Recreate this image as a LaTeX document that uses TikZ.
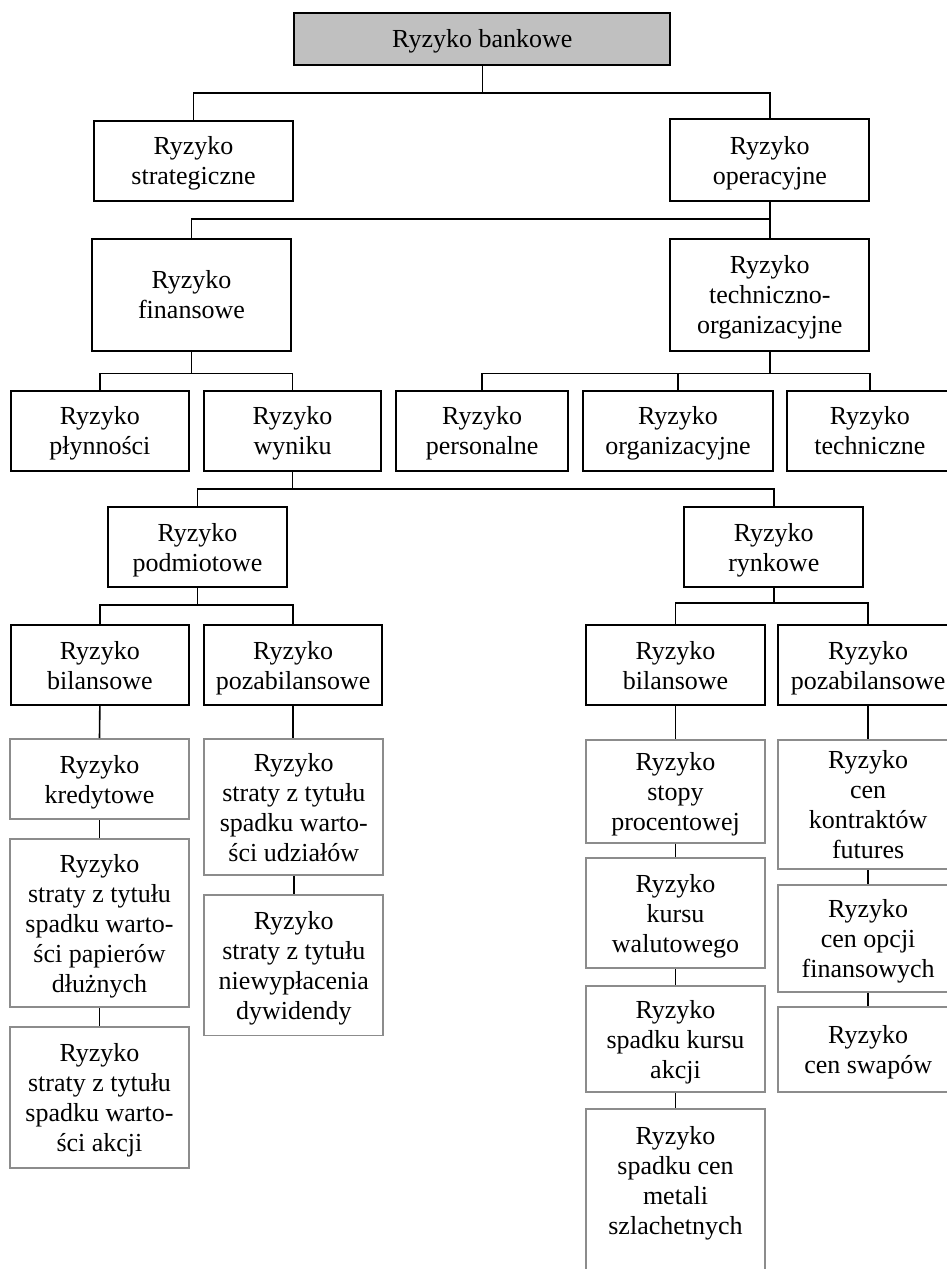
\documentclass[tikz,border=0pt]{standalone}
\usepackage{fontspec}
\setmainfont{Liberation Serif}
\definecolor{boxgray}{RGB}{140,140,140}
\definecolor{topfill}{RGB}{192,192,192}
\begin{document}
\begin{tikzpicture}[x=1pt,y=-1pt,
  box/.style={rectangle, line width=1.8pt, inner sep=0pt, align=center,
    font=\fontsize{26}{30}\selectfont},
  upper/.style={box, draw=black},
  lower/.style={box, draw=boxgray},
  link/.style={line width=1.6pt, draw=black}]
\useasboundingbox (0,0) rectangle (946,1269);

% root
\node[upper, fill=topfill, text depth=0pt, minimum width=376pt, minimum height=52.3pt]
  (bank) at (482.3,38.85) {Ryzyko bankowe};

% upper levels
\node[upper, minimum width=198.4pt, minimum height=80.3pt] (strat) at (193.5,160.85)
  {Ryzyko\\\smash{strategiczne}};
\node[upper, minimum width=199pt, minimum height=82pt] (oper) at (769.8,160)
  {Ryzyko\\\smash{operacyjne}};
\node[upper, minimum width=198.4pt, minimum height=111.7pt] (finan) at (191.5,294.85)
  {Ryzyko\\\smash{finansowe}};
\node[upper, minimum width=199pt, minimum height=111.7pt] (techorg) at (769.8,294.85)
  {Ryzyko\\techniczno-\\\smash{organizacyjne}};

\node[upper, minimum width=178.3pt, minimum height=79.7pt] (plyn) at (99.85,430.85)
  {Ryzyko\\\smash{płynności}};
\node[upper, minimum width=177pt, minimum height=79.7pt] (wyn) at (292.5,430.85)
  {Ryzyko\\\smash{wyniku}};
\node[upper, minimum width=172.3pt, minimum height=79.7pt] (pers) at (482.15,430.85)
  {Ryzyko\\\smash{personalne}};
\node[upper, minimum width=190.6pt, minimum height=79.7pt] (org) at (678,430.85)
  {Ryzyko\\\smash{organizacyjne}};
\node[upper, minimum width=166.3pt, minimum height=79.7pt] (tech) at (869.85,430.85)
  {Ryzyko\\\smash{techniczne}};

\node[upper, minimum width=178.4pt, minimum height=80.6pt] (podm) at (197.5,547)
  {Ryzyko\\\smash{podmiotowe}};
\node[upper, minimum width=179pt, minimum height=80.6pt] (rynk) at (773.8,547)
  {Ryzyko\\\smash{rynkowe}};

\node[upper, minimum width=178.3pt, minimum height=80pt] (bilL) at (99.85,665)
  {Ryzyko\\\smash{bilansowe}};
\node[upper, minimum width=178.3pt, minimum height=80pt] (pozaL) at (293.15,665)
  {Ryzyko\\\smash{pozabilansowe}};
\node[upper, minimum width=179pt, minimum height=80pt] (bilR) at (675.5,665)
  {Ryzyko\\\smash{bilansowe}};
\node[upper, minimum width=179.7pt, minimum height=80pt] (pozaR) at (868.15,665)
  {Ryzyko\\\smash{pozabilansowe}};

% leaf columns
\node[lower, minimum width=179pt, minimum height=80.3pt] (kred) at (99.5,779.15)
  {Ryzyko\\\smash{kredytowe}};
\node[lower, minimum width=179pt, minimum height=168.3pt] (papier) at (99.5,923.15)
  {Ryzyko\\straty z tytułu\\spadku warto-\\ści papierów\\\smash{dłużnych}};
\node[lower, minimum width=179pt, minimum height=140.7pt] (akcjiL) at (99.5,1097.35)
  {Ryzyko\\straty z tytułu\\spadku warto-\\\smash{ści akcji}};

\node[lower, minimum width=179pt, minimum height=136.3pt] (udz) at (293.8,807.15)
  {Ryzyko\\straty z tytułu\\spadku warto-\\\smash{ści udziałów}};
\node[lower, minimum width=179pt, minimum height=140.5pt] (dyw) at (293.8,965.25)
  {Ryzyko\\straty z tytułu\\niewypłacenia\\\smash{dywidendy}};

\node[lower, minimum width=179pt, minimum height=102.7pt] (stopy) at (675.5,791.35)
  {Ryzyko\\stopy\\\smash{procentowej}};
\node[lower, minimum width=179pt, minimum height=110pt] (walut) at (675.5,913.3)
  {Ryzyko\\kursu\\\smash{walutowego}};
\node[lower, minimum width=179pt, minimum height=106.3pt] (spadakcji) at (675.5,1039.15)
  {Ryzyko\\spadku kursu\\\smash{akcji}};
\node[lower, minimum width=179pt, minimum height=170.7pt] (metali) at (675.5,1194.65)
  {Ryzyko\\spadku cen\\metali\\\smash{szlachetnych}\rule[-29.3pt]{0pt}{29.3pt}};

\node[lower, minimum width=179.7pt, minimum height=129.3pt] (futures) at (868.15,804.65)
  {Ryzyko\\cen\\kontraktów\\\smash{futures}};
\node[lower, minimum width=179.7pt, minimum height=106.7pt] (opcji) at (868.15,938.35)
  {Ryzyko\\cen opcji\\\smash{finansowych}};
\node[lower, minimum width=179.7pt, minimum height=85pt] (swap) at (868.15,1049.8)
  {Ryzyko\\\smash{cen swapów}};

% bus levels of the tree
\coordinate (b1) at (0,92.7);
\coordinate (b2) at (0,219);
\coordinate (b3) at (0,373.3);
\coordinate (b4) at (0,489);
\coordinate (b5l) at (0,605);
\coordinate (b5r) at (0,603);

% connectors
\draw[link] (bank.south) -- (bank.south |- b1);
\draw[link] (strat.north) -- (strat.north |- b1) -- (oper.north |- b1) -- (oper.north);
\draw[link] (oper.south) -- (techorg.north);
\draw[link] (finan.north) -- (finan.north |- b2) -- (techorg.north |- b2);

\draw[link] (finan.south) -- (finan.south |- b3);
\draw[link] (plyn.north) -- (plyn.north |- b3) -- (wyn.north |- b3) -- (wyn.north);
\draw[link] (techorg.south) -- (techorg.south |- b3);
\draw[link] (pers.north) -- (pers.north |- b3) -- (tech.north |- b3) -- (tech.north);
\draw[link] (org.north) -- (org.north |- b3);

\draw[link] (wyn.south) -- (wyn.south |- b4);
\draw[link] (podm.north) -- (podm.north |- b4) -- (rynk.north |- b4) -- (rynk.north);

\draw[link] (podm.south) -- (podm.south |- b5l);
\draw[link] (bilL.north) -- (bilL.north |- b5l) -- (pozaL.north |- b5l) -- (pozaL.north);
\draw[link] (rynk.south) -- (rynk.south |- b5r);
\draw[link] (bilR.north) -- (bilR.north |- b5r) -- (pozaR.north |- b5r) -- (pozaR.north);

\draw[link] (bilL.south) -- (kred.north);
\draw[link] (kred.south) -- (papier.north);
\draw[link] (papier.south) -- (akcjiL.north);
\draw[link] (pozaL.south) -- (pozaL.south |- udz.north);
\draw[link] (udz.south) -- (dyw.north);
\draw[link] (bilR.south) -- (stopy.north);
\draw[link] (stopy.south) -- (walut.north);
\draw[link] (walut.south) -- (spadakcji.north);
\draw[link] (spadakcji.south) -- (metali.north);
\draw[link] (pozaR.south) -- (futures.north);
\draw[link] (futures.south) -- (opcji.north);
\draw[link] (opcji.south) -- (swap.north);
\end{tikzpicture}
\end{document}
